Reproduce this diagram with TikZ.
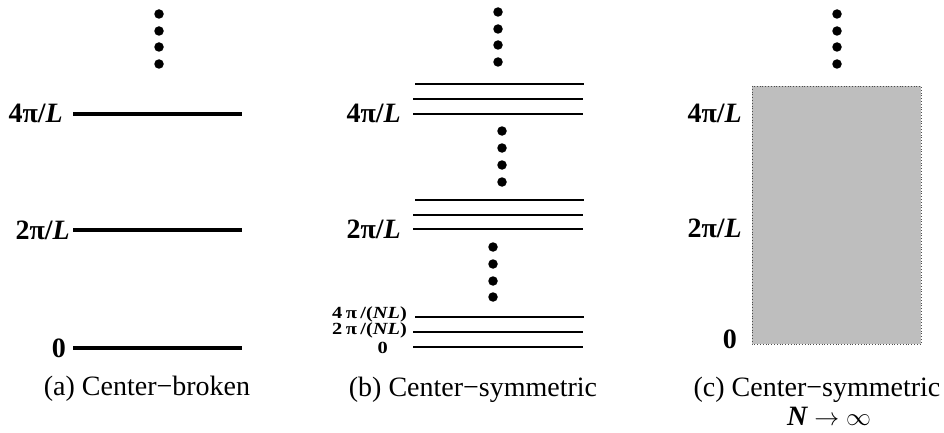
\documentclass[tikz,border=0pt]{standalone}
\usepackage{fontspec}
\setmainfont{Liberation Serif}
\usepackage{xcolor}
\usepackage{graphicx}
\usetikzlibrary{positioning}
\definecolor{bandgray}{RGB}{190,190,190}

\begin{document}
\begin{tikzpicture}[
  x=1pt, y=-1pt,
  font=\fontsize{28}{32}\selectfont,
  lbl/.style={anchor=base east, inner sep=0pt, font=\fontsize{28}{32}\selectfont\bfseries},
  smalllbl/.style={anchor=base east, inner sep=0pt, font=\fontsize{17}{18}\selectfont\bfseries},
  caption/.style={anchor=base, inner sep=0pt},
  vdot/.style={circle, fill=black, inner sep=0pt, minimum size=9.5pt},
  thicklevel/.style={line width=3.6pt},
  thinlevel/.style={line width=1.4pt},
  band/.style={fill=bandgray, draw=black!70, dotted, line width=0.8pt}
]
\useasboundingbox (0,0) rectangle (944,433);

% (a) center-broken
\foreach \y [count=\i] in {14,31,47,64} \node[vdot] (adot\i) at (159,\y) {};
\node[lbl] (afour) at (63,123) {4π/\textit{L}};
\node[lbl] (atwo) at (70,239) {2π/\textit{L}};
\node[lbl] (azero) at (66,357) {0};
\foreach \y in {114,230,348} \draw[thicklevel] (73,\y) -- (242,\y);
\node[caption] (acap) at (147,395) {(a) Center−broken};

% (b) center-symmetric
\foreach \y [count=\i] in {12,29,45,62} \node[vdot] (btop\i) at (498,\y) {};
\foreach \y [count=\i] in {131,148,165,182} \node[vdot] (bmid\i) at (502,\y) {};
\foreach \y [count=\i] in {247,264,281,297} \node[vdot] (blow\i) at (493,\y) {};
\node[lbl] (bfour) at (401,123) {4π/\textit{L}};
\node[lbl] (btwo) at (401,238) {2π/\textit{L}};
\node[smalllbl] (bfourN) at (407,318) {\scalebox{1.2}[1]{4\,π\,/(\textit{NL})}};
\node[smalllbl] (btwoN) at (407,334) {\scalebox{1.2}[1]{2\,π\,/(\textit{NL})}};
\node[smalllbl] (bzero) at (388,353) {\scalebox{1.2}[1]{0}};
\foreach \y in {84,200,317} \draw[thinlevel] (415,\y) -- (584,\y);
\foreach \y in {99,114,215,229,332,347} \draw[thinlevel] (413,\y) -- (583,\y);
\node[caption] (bcap) at (473,396) {(b) Center−symmetric};

% (c) N to infinity
\foreach \y [count=\i] in {14,31,47,64} \node[vdot] (cdot\i) at (837,\y) {};
\draw[band] (752,86) rectangle (921,344);
\node[lbl] (cfour) at (742,122) {4π/\textit{L}};
\node[lbl] (ctwo) at (742,237) {2π/\textit{L}};
\node[lbl] (czero) at (737,348) {0};
\node[caption] (ccap) at (817,396) {(c) Center−symmetric};
\node[caption] (climit) at (829,425) {{\bfseries\itshape N} $\rightarrow\infty$};
\end{tikzpicture}
\end{document}
